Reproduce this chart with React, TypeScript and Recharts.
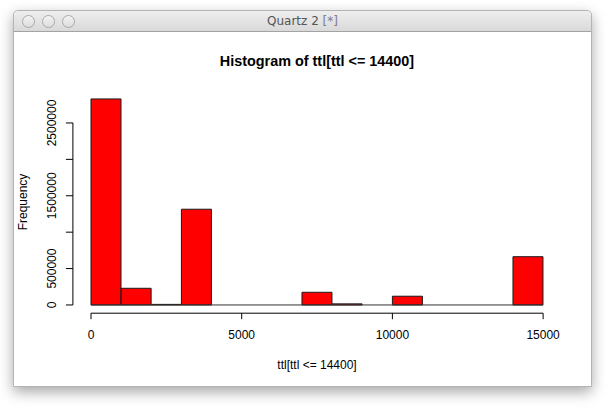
import React from 'react';
import { BarChart, Bar, XAxis, YAxis, ReferenceLine } from 'recharts';

// histogram bins of ttl (width 1000)
const binStarts = [0, 1000, 2000, 3000, 4000, 5000, 6000, 7000, 8000, 9000, 10000, 11000, 12000, 13000, 14000];
const binWidth = 1000;
const counts = [2830000, 229000, 8000, 1315000, 0, 0, 0, 174000, 15000, 0, 120000, 0, 0, 0, 663000];

const xTicks = [0, 5000, 10000, 15000];
const yTicks = [0, 500000, 1000000, 1500000, 2000000, 2500000];
const yLabelled = [0, 500000, 1500000, 2500000];

const data = binStarts.map((s, i) => ({ mid: s + binWidth / 2, count: counts[i] }));

// R pads the plot region by 4% on each side
const xLo = binStarts[0];
const xHi = binStarts[binStarts.length - 1] + binWidth;
const xPad = (xHi - xLo) * 0.04;
const yTop = Math.max(...counts);
const yMin = -yTop * 0.04;
const yMax = yTop * 1.04;

const FONT = '"Liberation Sans", Arial, Helvetica, sans-serif';

const XTick = (props: any) => {
  const { x, y, payload } = props;
  return (
    <text x={x} y={y} dy="0.35em" textAnchor="middle" fontSize={12} fontFamily={FONT} fill="#000">
      {payload.value}
    </text>
  );
};

const YTick = (props: any) => {
  const { x, y, payload } = props;
  if (!yLabelled.includes(payload.value)) return <g />;
  return (
    <text
      x={x}
      y={y}
      dy="0.35em"
      textAnchor="middle"
      transform={`rotate(-90 ${x} ${y})`}
      fontSize={12}
      fontFamily={FONT}
      fill="#000"
    >
      {payload.value}
    </text>
  );
};

function TrafficLight({ left }: { left: number }) {
  return (
    <div
      style={{
        position: 'absolute',
        left,
        top: 4,
        width: 11,
        height: 11,
        borderRadius: '50%',
        border: '1px solid #a9a9a9',
        background: 'linear-gradient(#f4f4f4, #dcdcdc)',
      }}
    />
  );
}

export default function App() {
  return (
    <div style={{ position: 'absolute', left: 0, top: 0, width: 606, height: 407, background: '#fff', overflow: 'hidden' }}>
      {/* window */}
      <div
        style={{
          position: 'absolute',
          left: 13,
          top: 10,
          width: 579,
          height: 377,
          background: '#fff',
          border: '1px solid #b4b4b4',
          borderRadius: '5px 5px 0 0',
          boxShadow: '0 5px 14px rgba(0,0,0,0.35)',
          boxSizing: 'border-box',
        }}
      >
        <div
          style={{
            position: 'absolute',
            left: 0,
            top: 0,
            right: 0,
            height: 21,
            background: 'linear-gradient(#eeeeee, #d9d9d9)',
            borderBottom: '1px solid #a3a3a3',
            borderRadius: '5px 5px 0 0',
            boxSizing: 'border-box',
          }}
        >
          <TrafficLight left={8} />
          <TrafficLight left={28} />
          <TrafficLight left={48} />
          <div
            style={{
              position: 'absolute',
              left: 0,
              right: 0,
              top: 3,
              textAlign: 'center',
              fontFamily: '"DejaVu Sans", "Liberation Sans", sans-serif',
              fontSize: 12,
              color: '#555',
              lineHeight: '14px',
            }}
          >
            Quartz 2 <span style={{ color: '#7d7d8c' }}>[*]</span>
          </div>
        </div>
      </div>

      <div style={{ position: 'absolute', left: 0, top: 0 }}>
        <BarChart
          width={606}
          height={407}
          data={data}
          margin={{ top: 90.7, right: 44.8, bottom: 63.8, left: 12.9 }}
          barCategoryGap={0}
          barGap={0}
        >
          <XAxis
            dataKey="mid"
            type="number"
            domain={[xLo - xPad, xHi + xPad]}
            ticks={xTicks}
            axisLine={false}
            tickLine={{ stroke: '#000' }}
            tickSize={6}
            tickMargin={16}
            tick={XTick}
            height={30}
            interval={0}
          />
          <YAxis
            type="number"
            domain={[yMin, yMax]}
            ticks={yTicks}
            axisLine={false}
            tickLine={{ stroke: '#000' }}
            tickSize={7}
            tickMargin={14}
            tick={YTick}
            width={60}
            interval={0}
          />
          <ReferenceLine
            segment={[{ x: xLo, y: 0 }, { x: xHi, y: 0 }]}
            stroke="#333"
            ifOverflow="visible"
          />
          <Bar dataKey="count" fill="#ff0000" stroke="#1a1a1a" strokeWidth={1} isAnimationActive={false} />
          <ReferenceLine
            segment={[{ x: xLo, y: yMin }, { x: xHi, y: yMin }]}
            stroke="#000"
            ifOverflow="visible"
          />
          <ReferenceLine
            segment={[{ x: xLo - xPad, y: yTicks[0] }, { x: xLo - xPad, y: yTicks[yTicks.length - 1] }]}
            stroke="#000"
            ifOverflow="visible"
          />
        </BarChart>
      </div>

      <svg width={606} height={407} style={{ position: 'absolute', left: 0, top: 0 }}>
        <text x={317} y={61} dy="0.35em" textAnchor="middle" fontSize={14.4} fontWeight="bold" fontFamily={FONT} fill="#000">
          Histogram of ttl[ttl &lt;= 14400]
        </text>
        <text x={317} y={365} dy="0.35em" textAnchor="middle" fontSize={12} fontFamily={FONT} fill="#000">
          ttl[ttl &lt;= 14400]
        </text>
        <text
          x={23}
          y={202}
          dy="0.35em"
          textAnchor="middle"
          transform="rotate(-90 23 202)"
          fontSize={12}
          fontFamily={FONT}
          fill="#000"
        >
          Frequency
        </text>
      </svg>
    </div>
  );
}
